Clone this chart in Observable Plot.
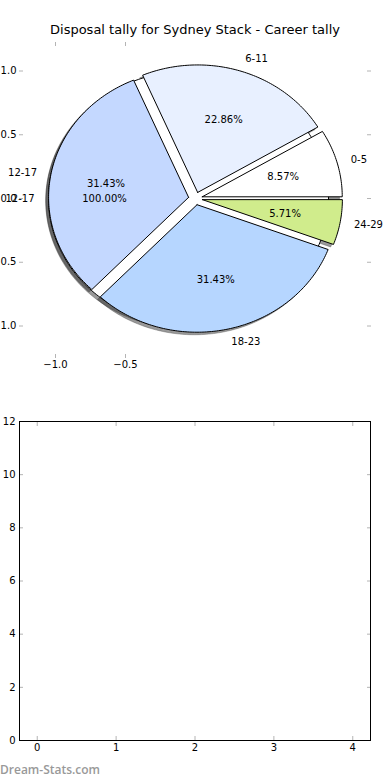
<!DOCTYPE html>
<html><head><meta charset="utf-8">
<script src="https://cdn.jsdelivr.net/npm/d3@7"></script>
<script src="https://cdn.jsdelivr.net/npm/@observablehq/plot@0.6"></script>
<style>
body{margin:0;background:#fff;}
#wrap{position:relative;width:390px;height:780px;overflow:hidden;font-family:"DejaVu Sans",sans-serif;}
#title{position:absolute;top:21px;left:0;width:390px;text-align:center;font-size:13px;line-height:18px;color:#000;}
#pie{position:absolute;top:40px;left:0;}
#bar{position:absolute;top:380px;left:0;}
#wm{position:absolute;left:0;top:762px;font-family:"Open Sans",sans-serif;font-weight:600;font-size:12px;line-height:16px;color:#999;}
</style></head><body>
<div id="wrap">
<div id="title">Disposal tally for Sydney Stack - Career tally</div>
<div id="pie"></div>
<div id="bar"></div>
<div id="wm">Dream-Stats.com</div>
</div>
<script>
// ---- data ----
const categories = ["0-5", "6-11", "12-17", "18-23", "24-29"];
const counts = [3, 8, 11, 11, 2];
const colors = ["#ffffff", "#e8f0ff", "#c4d8ff", "#b6d6ff", "#d0ec8c"];
const explodes = [0.05, 0.05, 0.05, 0.05, 0.05];
// second (single-wedge) pie drawn underneath
const fullCategories = ["12-17"];
const fullCounts = [1];
const fullColors = ["#ffffff"];
const fullExplodes = [0.05];
// ticks
const pieYTicks = [-1, -0.5, 0, 0.5, 1];
const pieXTicks = [-1, -0.5];
const barXTicks = [0, 1, 2, 3, 4];
const barYTicks = [0, 2, 4, 6, 8, 10, 12];

// ---- geometry from values ----
function buildSlices(cats, vals, cols, exps, tag) {
  const total = d3.sum(vals);
  let acc = 0;
  return cats.map((c, i) => {
    const t1 = acc / total * 360; acc += vals[i]; const t2 = acc / total * 360;
    return {key: tag + i, label: c, value: vals[i], total, color: cols[i], t1, t2, explode: exps[i]};
  });
}
const fullSlices = buildSlices(fullCategories, fullCounts, fullColors, fullExplodes, "f");
const mainSlices = buildSlices(categories, counts, colors, explodes, "m");
const rad = Math.PI / 180;
function outline(s, dx, dy) {
  const mid = (s.t1 + s.t2) / 2 * rad;
  const cx = s.explode * Math.cos(mid) + dx, cy = s.explode * Math.sin(mid) + dy;
  const isFull = s.t2 - s.t1 >= 359.999;
  const pts = [];
  if (!isFull) pts.push([cx, cy]);
  const n = Math.max(4, Math.ceil(s.t2 - s.t1));
  for (let k = 0; k <= n; k++) {
    const a = (s.t1 + (s.t2 - s.t1) * k / n) * rad;
    pts.push([cx + Math.cos(a), cy + Math.sin(a)]);
  }
  if (!isFull) pts.push([cx, cy]);
  return pts.map(([x, y]) => ({x, y, key: s.key, color: s.color}));
}
const allSlices = [...fullSlices, ...mainSlices];
const shadowPts = allSlices.flatMap(s => outline(s, -0.02, -0.02));
const fullPts = fullSlices.flatMap(s => outline(s, 0, 0));
const mainPts = mainSlices.flatMap(s => outline(s, 0, 0));
const labels = allSlices.map(s => {
  const mid = (s.t1 + s.t2) / 2 * rad;
  const cx = s.explode * Math.cos(mid), cy = s.explode * Math.sin(mid);
  const lx = cx + 1.1 * Math.cos(mid), ly = cy + 1.1 * Math.sin(mid);
  return {label: s.label, lx, ly, px: cx + 0.6 * Math.cos(mid), py: cy + 0.6 * Math.sin(mid),
          pct: d3.format(".2f")(s.value / s.total * 100) + "%", right: lx > 0};
});

const fmt1 = d => d3.format(".1f")(d);
const tickGray = "#b4b4b4";
const font = {fontFamily: "DejaVu Sans, sans-serif", fontSize: "10px", color: "#000", background: "transparent", overflow: "visible"};

const pie = Plot.plot({
  width: 390, height: 340,
  marginLeft: 19, marginRight: 20, marginTop: 1, marginBottom: 22,
  style: font,
  x: {domain: [-176 / 140, 175 / 140]},
  y: {domain: [-160 / 127.5, 157 / 127.5]},
  color: {type: "identity"},
  marks: [
    Plot.line(shadowPts, {x: "x", y: "y", z: "key", fill: "#333", fillOpacity: 0.5, stroke: "#333", strokeOpacity: 0.4, strokeWidth: 0.8, curve: "linear"}),
    Plot.line(fullPts, {x: "x", y: "y", z: "key", fill: "color", stroke: "#000", strokeWidth: 1, curve: "linear"}),
    Plot.line(mainPts, {x: "x", y: "y", z: "key", fill: "color", stroke: "#000", strokeWidth: 1, curve: "linear"}),
    Plot.axisY(pieYTicks, {anchor: "left", tickSize: 0, tickPadding: 3, tickFormat: fmt1, label: null, fontSize: 10}),
    Plot.axisY(pieYTicks, {anchor: "left", tickSize: -4, stroke: tickGray, fill: "none", label: null}),
    Plot.axisY(pieYTicks, {anchor: "right", tickSize: -4, stroke: tickGray, fill: "none", label: null}),
    Plot.axisX(pieXTicks, {anchor: "bottom", tickSize: 0, tickPadding: 2, tickFormat: fmt1, label: null, fontSize: 10}),
    Plot.axisX(pieXTicks, {anchor: "bottom", tickSize: -4, stroke: tickGray, fill: "none", label: null}),
    Plot.axisX(pieXTicks, {anchor: "top", tickSize: -4, stroke: tickGray, fill: "none", label: null}),
    Plot.text(labels.filter(d => d.right), {x: "lx", y: "ly", text: "label", textAnchor: "start", fontSize: 10, fill: "#000"}),
    Plot.text(labels.filter(d => !d.right), {x: "lx", y: "ly", text: "label", textAnchor: "end", fontSize: 10, fill: "#000"}),
    Plot.text(labels, {x: "px", y: "py", text: "pct", textAnchor: "middle", fontSize: 10, fill: "#000"})
  ]
});
document.getElementById("pie").appendChild(pie);

const bar = Plot.plot({
  width: 390, height: 400,
  marginLeft: 19, marginRight: 20, marginTop: 41, marginBottom: 40,
  style: font,
  x: {domain: [-0.225, 4.225]},
  y: {domain: [0, 12]},
  marks: [
    Plot.axisX(barXTicks, {anchor: "bottom", tickSize: -4, stroke: tickGray, fill: "none", label: null}),
    Plot.axisX(barXTicks, {anchor: "top", tickSize: -4, stroke: tickGray, fill: "none", label: null}),
    Plot.axisY(barYTicks, {anchor: "left", tickSize: -4, stroke: tickGray, fill: "none", label: null}),
    Plot.axisY(barYTicks, {anchor: "right", tickSize: -4, stroke: tickGray, fill: "none", label: null}),
    Plot.axisX(barXTicks, {anchor: "bottom", tickSize: 0, tickPadding: 3, tickFormat: d => String(d), label: null, fontSize: 10}),
    Plot.axisY(barYTicks, {anchor: "left", tickSize: 0, tickPadding: 4, tickFormat: d => String(d), label: null, fontSize: 10}),
    Plot.frame({stroke: "#000", strokeWidth: 1})
  ]
});
document.getElementById("bar").appendChild(bar);
</script>
</body></html>
